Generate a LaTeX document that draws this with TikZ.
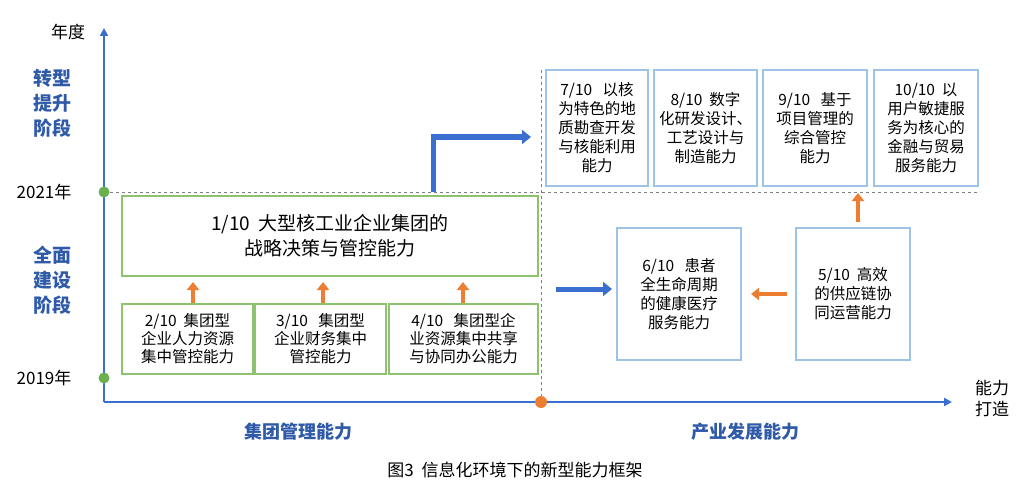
\documentclass[tikz,border=0pt]{standalone}
\usepackage{fontspec}
\setmainfont{Noto Sans CJK SC}
\usetikzlibrary{arrows.meta}
\definecolor{ax}{HTML}{3A6FD0}
\definecolor{gb}{HTML}{8DC26F}
\definecolor{gd}{HTML}{6AB04C}
\definecolor{bb}{HTML}{9DC3E6}
\definecolor{og}{HTML}{ED7D31}
\definecolor{tb}{HTML}{2E5AA8}
\begin{document}
\begin{tikzpicture}[x=1pt,y=-1pt,
 gbox/.style={draw=gb,line width=1.2pt,fill=white,align=center,font=\fontsize{15.5}{18}\selectfont,inner sep=0},
 bbox/.style={draw=bb,line width=1.2pt,fill=white,align=center,font=\fontsize{15.5}{19}\selectfont,inner sep=0},
 oarr/.style={og,line width=4pt,-{Triangle[length=8pt,width=12pt]}},
 barr/.style={ax,line width=5pt,-{Triangle[length=9pt,width=14pt]}},
 stage/.style={text=tb,font=\bfseries\fontsize{19}{25}\selectfont,align=center},
 lab/.style={font=\fontsize{17}{21}\selectfont}]
\useasboundingbox (0,0) rectangle (1030,500);
% dashed guides
\draw[gray,dashed] (104,192) -- (980,192);
\draw[gray,dashed] (541,70) -- (541,402);
% axes
\coordinate (o) at (104,402);
\coordinate (ytop) at (104,28);
\coordinate (xend) at (952,402);
\draw[ax,line width=2pt,-{Triangle[length=8pt,width=8pt]}] (o) -- (ytop);
\draw[ax,line width=2pt,-{Triangle[length=8pt,width=8pt]}] (o) -- (xend);
\node[lab] at (68,32) {年度};
\node[lab,align=center] at (992,398) {能力\\打造};
\fill[gd] (104,192) circle (5.5);
\fill[gd] (104,378) circle (5.5);
\fill[og] (541,402) circle (6);
\node[lab] at (44,192) {2021年};
\node[lab] at (44,378) {2019年};
\node[stage] at (52,103) {转型\\提升\\阶段};
\node[stage] at (52,280) {全面\\建设\\阶段};
% green boxes
\node[gbox,minimum width=416pt,minimum height=80pt,font=\fontsize{19}{25}\selectfont] (b1) at (330,236) {1/10\ \ 大型核工业企业集团的\\战略决策与管控能力};
\node[gbox,minimum width=131pt,minimum height=70pt] (b2) at (187.5,339) {2/10\ \ 集团型\\企业人力资源\\集中管控能力};
\node[gbox,minimum width=131pt,minimum height=70pt] (b3) at (320.5,339) {3/10\ \ \ 集团型\\企业财务集中\\管控能力};
\node[gbox,minimum width=149pt,minimum height=70pt] (b4) at (463.5,339) {4/10\ \ \ 集团型企\\业资源集中共享\\与协同办公能力};
\draw[oarr] (193,303) -- (193,282);
\draw[oarr] (323,303) -- (323,282);
\draw[oarr] (463,303) -- (463,282);
% blue top boxes
\node[bbox,minimum width=102pt,minimum height=116pt] (b7) at (597,128) {7/10\ \ \ 以核\\为特色的地\\质勘查开发\\与核能利用\\能力};
\node[bbox,minimum width=103pt,minimum height=116pt] (b8) at (705.5,128) {8/10\ \ 数字\\化研发设计、\\工艺设计与\\制造能力};
\node[bbox,minimum width=104pt,minimum height=116pt] (b9) at (815,128) {9/10\ \ \ 基于\\项目管理的\\综合管控\\能力};
\node[bbox,minimum width=104pt,minimum height=116pt] (b10) at (926,128) {10/10\ \ 以\\用户敏捷服\\务为核心的\\金融与贸易\\服务能力};
\node[bbox,minimum width=124pt,minimum height=132pt] (b6) at (679,294) {6/10\ \ \ 患者\\全生命周期\\的健康医疗\\服务能力};
\node[bbox,minimum width=114pt,minimum height=132pt] (b5) at (853,294) {5/10\ \ 高效\\的供应链协\\同运营能力};
% arrows
\draw[barr] (433,192) -- (433,137) -- (531,137);
\draw[barr] (556,289) -- (612,289);
\draw[oarr] (787,294) -- (751,294);
\draw[oarr] (858,222) -- (858,193);
% bottom labels
\node[text=tb,font=\bfseries\fontsize{18}{22}\selectfont] at (298,432) {集团管理能力};
\node[text=tb,font=\bfseries\fontsize{18}{22}\selectfont] at (745,432) {产业发展能力};
\node[font=\fontsize{17}{20}\selectfont] at (515,470) {图3\ \ 信息化环境下的新型能力框架};
\end{tikzpicture}
\end{document}
